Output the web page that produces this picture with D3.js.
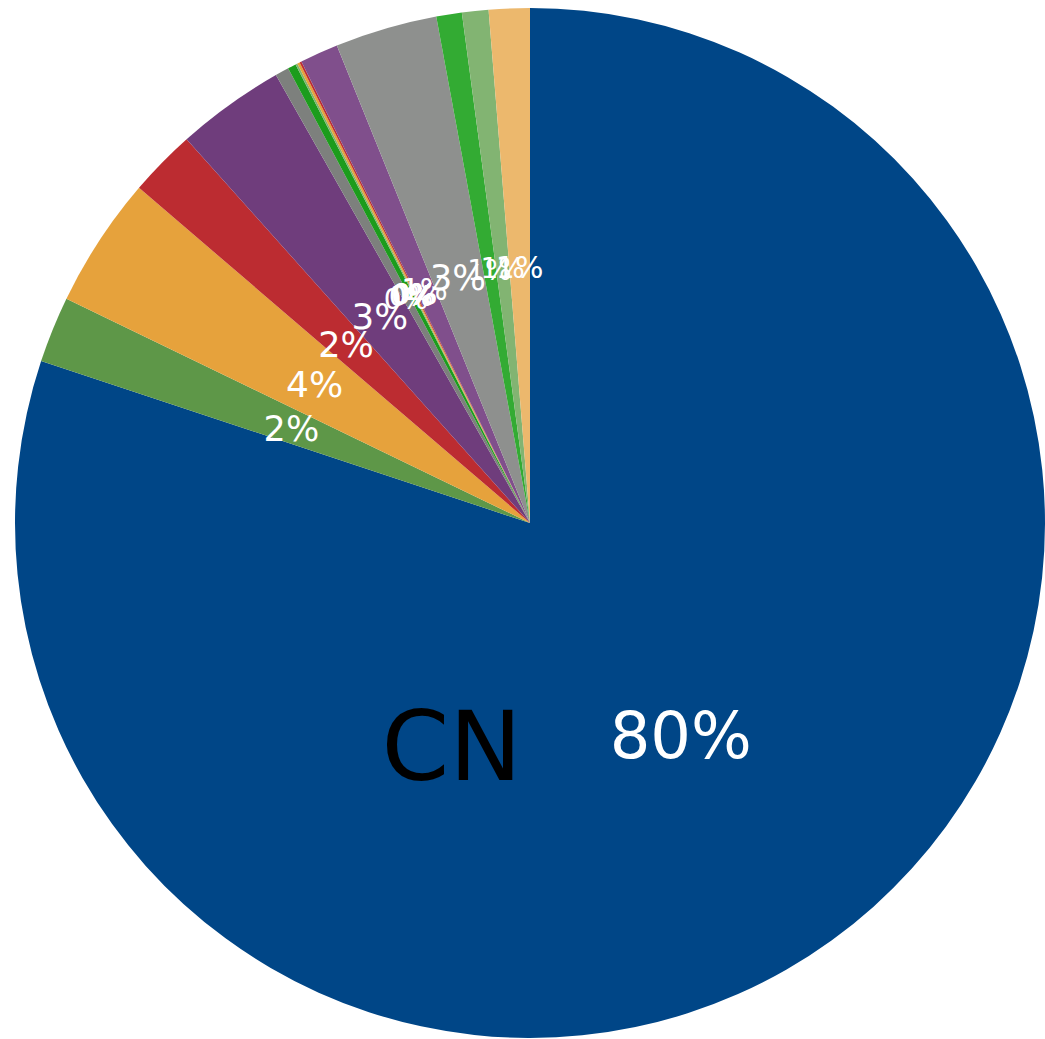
<!DOCTYPE html>
<html>
<head>
<meta charset="utf-8">
<script src="https://cdn.jsdelivr.net/npm/d3@7"></script>
<style>
  body { margin: 0; background: #fff; }
  svg { display: block; }
  text { font-family: "DejaVu Sans", Verdana, sans-serif; }
</style>
</head>
<body>
<script>
// slices, clockwise from 12 o'clock
var names  = ["CN", "", "", "", "", "", "", "", "", "", "", "", "", "", ""];
var shares = [79.97, 2.08, 4.1, 2.1, 3.4, 0.43, 0.26, 0.06, 0.08, 0.06, 1.2, 3.2, 0.8, 0.83, 1.28];
var colors = ["#004687", "#5e9748", "#e6a23c", "#bc2c31", "#6f3d7c", "#7d807d", "#1c9c1c",
              "#7fb46f", "#e6a23c", "#bc2c31", "#804f8c", "#8e908e", "#33ab33", "#82b472", "#ecb86d"];

var width = 1045, height = 1039;
var cx = 530, cy = 523, r = 515;

var svg = d3.select("body")
  .append("svg")
  .attr("width", width)
  .attr("height", height)
  .append("g")
  .attr("transform", "translate(" + cx + "," + cy + ")");

var data = shares.map(function(v, i) { return {name: names[i], value: v, color: colors[i]}; });
var total = d3.sum(shares);

var pie = d3.pie().sort(null).value(function(d) { return d.value; });
var arc = d3.arc().innerRadius(0).outerRadius(r);
var labelArc = d3.arc().innerRadius(r / 2).outerRadius(r / 2);

// bigger text for bigger slices
var fsize = d3.scaleLinear().domain([0, 1, 2, 4, 80]).range([28, 28, 35, 36, 64]).clamp(true);

var arcs = pie(data);

svg.selectAll("path.slice")
  .data(arcs)
  .enter()
  .append("path")
  .attr("class", "slice")
  .attr("d", arc)
  .attr("fill", function(d) { return d.data.color; });

svg.selectAll("text.pct")
  .data(arcs)
  .enter()
  .append("text")
  .attr("class", "pct")
  .attr("transform", function(d) { return "translate(" + labelArc.centroid(d) + ")"; })
  .attr("dy", "0.06em")
  .attr("text-anchor", "middle")
  .attr("dominant-baseline", "central")
  .attr("fill", "#fff")
  .style("font-size", function(d) { return fsize(d.data.value) + "px"; })
  .text(function(d) { return Math.round(d.data.value / total * 100) + "%"; });

// name label for the big slice only
svg.selectAll("text.name")
  .data(arcs.filter(function(d) { return d.data.name != ""; }))
  .enter()
  .append("text")
  .attr("class", "name")
  .attr("transform", function(d) {
    var c = labelArc.centroid(d);
    return "translate(" + (c[0] - 229) + "," + (c[1] + 15) + ")";
  })
  .attr("text-anchor", "middle")
  .attr("dominant-baseline", "central")
  .attr("fill", "#000")
  .style("font-size", "97px")
  .text(function(d) { return d.data.name; });
</script>
</body>
</html>
